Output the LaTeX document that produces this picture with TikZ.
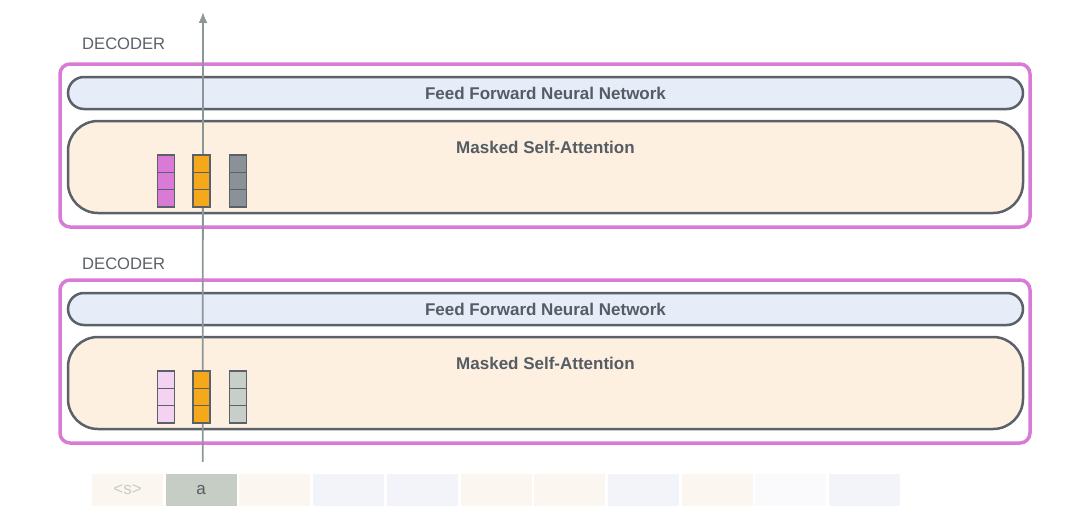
\documentclass[tikz,border=0pt]{standalone}
\usepackage{fontspec}
\setmainfont{Liberation Sans}
\usetikzlibrary{arrows.meta,positioning}

\definecolor{magline}{HTML}{D97AD6}
\definecolor{edgegray}{HTML}{5B6168}
\definecolor{textgray}{HTML}{555C63}
\definecolor{ffnnblue}{HTML}{E6ECF8}
\definecolor{attnpeach}{HTML}{FDF0E1}
\definecolor{vorange}{HTML}{F4A81A}
\definecolor{vpink}{HTML}{D97AD6}
\definecolor{vpinklt}{HTML}{F4D2F1}
\definecolor{vgray}{HTML}{8A9197}
\definecolor{vgraylt}{HTML}{C8CFC9}
\definecolor{arrowgray}{HTML}{8E9798}
\definecolor{tokgreen}{HTML}{C5CDC5}
\definecolor{tokpeach}{HTML}{FCF6F0}
\definecolor{tokblue}{HTML}{F3F4F9}
\definecolor{tokwhite}{HTML}{FAFAFC}

\tikzset{
  declabel/.style={anchor=west,text=edgegray,font=\fontsize{16.6}{19}\selectfont,inner sep=0pt},
  outerbox/.style={draw=magline,line width=3.5pt,rounded corners=10pt,minimum width=970pt,minimum height=163pt},
  ffnnbox/.style={draw=edgegray,fill=ffnnblue,line width=2.5pt,rounded corners=16pt,minimum width=955pt,minimum height=32pt,
    text=textgray,font=\bfseries\fontsize{17}{20}\selectfont},
  attnbox/.style={draw=edgegray,fill=attnpeach,line width=2.5pt,rounded corners=30pt,minimum width=955pt,minimum height=92pt},
  boxtext/.style={text=textgray,font=\bfseries\fontsize{17}{20}\selectfont,inner sep=0pt},
  cell/.style={draw=edgegray,line width=1.3pt,minimum width=17pt,minimum height=17.3pt,inner sep=0pt},
  tokbox/.style={minimum width=71pt,minimum height=32pt,inner sep=0pt,font=\fontsize{17}{20}\selectfont},
  flow/.style={draw=arrowgray,line width=1.8pt,-{Latex[length=11pt,width=9pt]}}
}

\begin{document}
\begin{tikzpicture}[x=1pt,y=-1pt]
\useasboundingbox (0,0) rectangle (1080,522);

% the two decoder blocks
\foreach \dy/\ly/\nm in {0/44/top,216/264/bot}{
  \node[declabel] (lab\nm) at (82,\ly) {DECODER};
  \node[outerbox] (dec\nm) at (545,145.5+\dy) {};
  \node[ffnnbox] (ff\nm) at (545.5,93+\dy) {Feed Forward Neural Network};
  \node[attnbox] (sa\nm) at (545.5,167+\dy) {};
  \node[boxtext] (satxt\nm) at (545.5,147+\dy) {Masked Self-Attention};
}

% input tokens
\foreach \i/\fc in {0/tokpeach,1/tokgreen,2/tokpeach,3/tokblue,4/tokblue,5/tokpeach,6/tokpeach,7/tokblue,8/tokpeach,9/tokwhite,10/tokblue}
  \node[tokbox,fill=\fc] (tok\i) at (127.5+73.7*\i,490) {};
\node[tokbox,text=tokgreen] at (tok0) {<s>};
\node[tokbox,text=textgray] at (tok1) {a};

% path of the token up through the stack
\coordinate (arrtop) at (203,12);
\draw[flow] ([xshift=1.5pt,yshift=12pt]tok1.north) -- (arrtop);

% vectors inside self-attention
\foreach \dy/\pk/\gr in {0/vpink/vgray,216/vpinklt/vgraylt}
  \foreach \cx/\col in {166/\pk,201.5/vorange,238/\gr}
    \foreach \r in {0,1,2}
      \node[cell,fill=\col] at (\cx,163.7+17.3*\r+\dy) {};

\end{tikzpicture}
\end{document}
